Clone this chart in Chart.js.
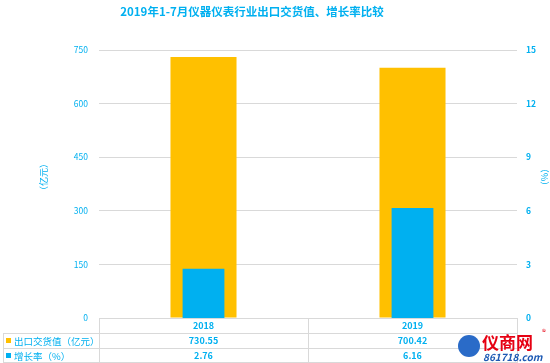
<!DOCTYPE html>
<html><head><meta charset="utf-8">
<script src="https://cdn.jsdelivr.net/npm/chart.js@4/dist/chart.umd.min.js"></script>
<style>html,body{margin:0;padding:0;background:#fff;}#wrap{width:550px;height:363px;position:relative;}</style>
</head><body><div id="wrap"><canvas id="c" width="550" height="363"></canvas></div>
<script>
const categories = ['2018', '2019'];
const exportValues = [730.55, 700.42];
const growthRates = [2.76, 6.16];
const seriesNames = ['出口交货值（亿元）', '增长率（%）'];
const leftTicks = [0, 150, 300, 450, 600, 750];
const rightTicks = [0, 3, 6, 9, 12, 15];
const titleText = '2019年1-7月仪器仪表行业出口交货值、增长率比较';
const leftAxisTitle = '（亿元）';
const rightAxisTitle = '（%）';

const BLUE = '#00B0F0';
const ORANGE = '#FFC000';
const GRID = '#D9D9D9';
const FONT = '"Noto Sans CJK SC", "Noto Sans", sans-serif';

const extras = {
  id: 'extras',
  afterDraw(chart) {
    const ctx = chart.ctx;
    const ca = chart.chartArea;
    const xs = chart.scales.x;
    ctx.save();
    // title
    ctx.fillStyle = BLUE;
    ctx.font = 'bold 11.5px ' + FONT;
    ctx.textAlign = 'center';
    ctx.textBaseline = 'middle';
    ctx.fillText(titleText, 252, 12);
    // axis titles
    ctx.font = '9px ' + FONT;
    ctx.save();
    ctx.translate(44, 177);
    ctx.rotate(-Math.PI / 2);
    ctx.fillText(leftAxisTitle, 0, 0);
    ctx.restore();
    ctx.save();
    ctx.translate(545, 177);
    ctx.rotate(-Math.PI / 2);
    ctx.fillText(rightAxisTitle, 0, 0);
    ctx.restore();
    // table
    const top = ca.bottom;
    const rowH = 15;
    const bottom = top + rowH * 3;
    const half = (xs.getPixelForValue(0) + xs.getPixelForValue(1)) / 2;
    ctx.strokeStyle = GRID;
    ctx.lineWidth = 1;
    ctx.beginPath();
    ctx.moveTo(ca.left, top + 0.5); ctx.lineTo(ca.right, top + 0.5);
    for (let r = 1; r <= 2; r++) {
      const y = Math.round(top + rowH * r) + 0.5;
      ctx.moveTo(3, y); ctx.lineTo(ca.right, y);
    }
    ctx.moveTo(3, bottom - 0.5); ctx.lineTo(ca.right, bottom - 0.5);
    [ca.left, half, ca.right].forEach(x => {
      const xx = Math.round(x) + 0.5;
      ctx.moveTo(xx, top); ctx.lineTo(xx, bottom);
    });
    ctx.moveTo(3.5, top + rowH); ctx.lineTo(3.5, bottom);
    ctx.stroke();
    // category labels and values
    ctx.fillStyle = BLUE;
    ctx.textAlign = 'center';
    ctx.textBaseline = 'middle';
    ctx.font = 'bold 9px ' + FONT;
    categories.forEach((c, i) => {
      const x = xs.getPixelForValue(i);
      ctx.fillText(c, x, top + rowH * 0.5 + 0.5);
      ctx.fillText(exportValues[i].toFixed(2), x, top + rowH * 1.5 + 0.5);
      ctx.fillText(growthRates[i].toFixed(2), x, top + rowH * 2.5 + 0.5);
    });
    // legend cells
    const colors = [ORANGE, BLUE];
    ctx.textAlign = 'left';
    ctx.font = '9.5px ' + FONT;
    seriesNames.forEach((n, i) => {
      const y = top + rowH * (i + 1.5);
      ctx.fillStyle = colors[i];
      ctx.fillRect(6, y - 2.5, 5, 5);
      ctx.fillStyle = BLUE;
      ctx.fillText(n, 14, y + 0.5);
    });
    // watermark
    ctx.fillStyle = '#2A6BC8';
    ctx.beginPath();
    ctx.arc(469, 346, 11, 0, Math.PI * 2);
    ctx.fill();
    ctx.fillStyle = '#E60012';
    ctx.font = 'bold 17px ' + FONT;
    ctx.textAlign = 'left';
    ctx.fillText('仪商网', 482, 343);
    ctx.font = '8px ' + FONT;
    ctx.fillText('®', 542, 332);
    ctx.fillStyle = '#1E5AB4';
    ctx.font = 'italic bold 10px ' + FONT;
    ctx.fillText('861718.com', 483, 357);
    ctx.restore();
  }
};

new Chart(document.getElementById('c'), {
  type: 'bar',
  data: {
    labels: categories,
    datasets: [
      {
        label: seriesNames[0], data: exportValues, yAxisID: 'y',
        backgroundColor: ORANGE, borderWidth: 0, order: 2,
        categoryPercentage: 1, barPercentage: 0.316
      },
      {
        label: seriesNames[1], data: growthRates, yAxisID: 'y1',
        backgroundColor: BLUE, borderWidth: 0, order: 1,
        categoryPercentage: 1, barPercentage: 0.2
      }
    ]
  },
  options: {
    responsive: false,
    animation: false,
    devicePixelRatio: 1,
    layout: { padding: { top: 50, bottom: 45, left: 0, right: 0 } },
    plugins: { legend: { display: false }, tooltip: { enabled: false }, title: { display: false } },
    datasets: { bar: { grouped: false } },
    scales: {
      x: { display: false, offset: true },
      y: {
        position: 'left', min: 0, max: 750,
        afterBuildTicks: s => { s.ticks = leftTicks.map(v => ({ value: v })); },
        afterFit: s => { s.width = 99; },
        grid: { color: GRID, drawTicks: false },
        border: { display: false },
        ticks: { color: BLUE, padding: 11, font: { size: 8.5, family: FONT } }
      },
      y1: {
        position: 'right', min: 0, max: 15,
        afterBuildTicks: s => { s.ticks = rightTicks.map(v => ({ value: v })); },
        afterFit: s => { s.width = 33; },
        grid: { display: false, drawTicks: false },
        border: { display: false },
        ticks: { color: BLUE, padding: 9, font: { size: 8.5, family: FONT, weight: 'bold' } }
      }
    }
  },
  plugins: [extras]
});
</script></body></html>
